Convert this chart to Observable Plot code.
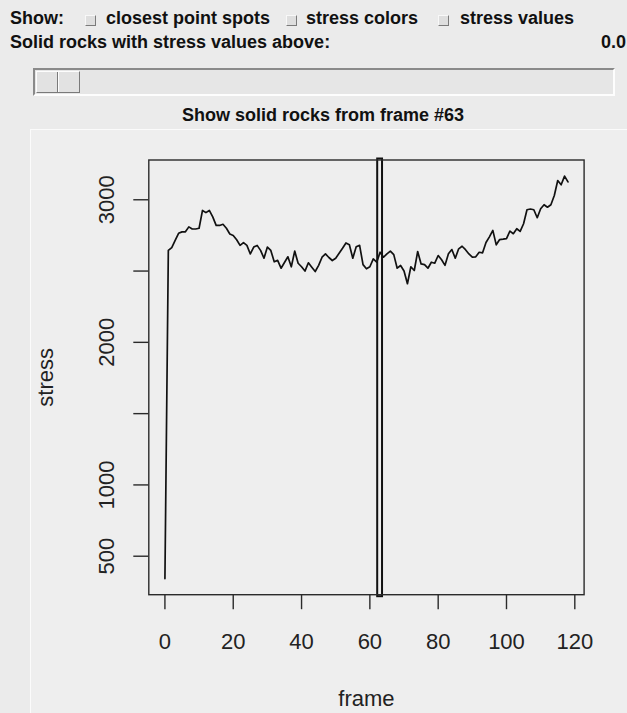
<!DOCTYPE html>
<html>
<head>
<meta charset="utf-8">
<script src="https://cdn.jsdelivr.net/npm/d3@7"></script>
<script src="https://cdn.jsdelivr.net/npm/@observablehq/plot@0.6"></script>
<style>
  html, body { margin: 0; padding: 0; }
  body { width: 627px; height: 713px; overflow: hidden; background: #ebebeb; position: relative;
         font-family: "Liberation Sans", Arial, sans-serif; }
  .t { position: absolute; font-weight: bold; font-size: 18px; color: #111; white-space: nowrap; }
  .cb { position: absolute; width: 9px; height: 9px; background: #dedede;
        border: 1px solid; border-color: #f8f8f8 #7a7a7a #7a7a7a #f8f8f8; }
  #trough { position: absolute; left: 33px; top: 68px; width: 578px; height: 24px; background: #e6e6e6;
            border: 2px solid; border-color: #8a8a8a #fdfdfd #fdfdfd #8a8a8a; }
  #handle { position: absolute; left: 1px; top: 1px; width: 42px; height: 20px; background: #e2e2e2;
            border: 1px solid; border-color: #fdfdfd #7a7a7a #7a7a7a #fdfdfd; }
  #handle .mid { position: absolute; left: 20px; top: 0; width: 1px; height: 20px; background: #7a7a7a; border-right: 1px solid #fdfdfd; }
  #panel { position: absolute; left: 30px; top: 129px; width: 597px; height: 584px; background: #eeeeee;
           border-top: 1px solid #fbfbfb; border-left: 1px solid #fbfbfb; }
  #chart { position: absolute; left: 30px; top: 130px; }
</style>
</head>
<body>
<div class="t" style="left:10px; top:8px;">Show:</div>
<div class="cb" style="left:85px; top:15px;"></div>
<div class="t" style="left:106px; top:8px;">closest point spots</div>
<div class="cb" style="left:286px; top:15px;"></div>
<div class="t" style="left:306px; top:8px;">stress colors</div>
<div class="cb" style="left:438px; top:15px;"></div>
<div class="t" style="left:460px; top:8px;">stress values</div>
<div class="t" style="left:10px; top:32px;">Solid rocks with stress values above:</div>
<div class="t" id="thr" style="right:1px; top:32px;"></div>
<div id="trough"><div id="handle"><div class="mid"></div></div></div>
<div id="panel"></div>
<div class="t" id="title" style="left:0; width:646px; text-align:center; top:105px;"></div>
<div id="chart"></div>
<script>
// ---- data ----
const frames = d3.range(0, 119);
const stress = [
  343, 2645, 2665, 2715, 2765, 2775, 2775, 2810, 2795, 2795,
  2800, 2925, 2910, 2925, 2880, 2820, 2820, 2828, 2800, 2760,
  2750, 2720, 2680, 2700, 2680, 2620, 2668, 2680, 2645, 2590,
  2668, 2645, 2565, 2575, 2520, 2560, 2600, 2530, 2640, 2555,
  2530, 2500, 2558, 2527, 2497, 2540, 2597, 2620, 2595, 2574,
  2590, 2625, 2660, 2697, 2685, 2590, 2670, 2680, 2545, 2516,
  2530, 2585, 2562, 2632, 2597, 2621, 2640, 2615, 2520, 2539,
  2500, 2411, 2530, 2504, 2637, 2550, 2545, 2520, 2562, 2555,
  2609, 2579, 2540, 2621, 2651, 2590, 2656, 2674, 2650, 2620,
  2597, 2600, 2632, 2628, 2700, 2740, 2785, 2684, 2721, 2724,
  2728, 2780, 2762, 2797, 2778, 2832, 2930, 2935, 2930, 2874,
  2937, 2965, 2948, 2965, 3030, 3135, 3105, 3166, 3125
];
const xTicks = [0, 20, 40, 60, 80, 100, 120];
const yTicks = [500, 1000, 1500, 2000, 2500, 3000];
const yTickLabels = ["500", "1000", "", "2000", "", "3000"];
const markedFrame = 63;
const threshold = "0.0";
const xLabel = "frame";
const yLabel = "stress";
const titleText = "Show solid rocks from frame #" + markedFrame;

document.getElementById("title").textContent = titleText;
document.getElementById("thr").textContent = threshold;

const data = frames.map((f, i) => ({frame: f, stress: stress[i]}));
const pad = (ext) => { const r = ext[1] - ext[0]; return [ext[0] - 0.04 * r, ext[1] + 0.04 * r]; };
const xDom = pad(d3.extent(frames));
const yDom = pad(d3.extent(stress));
const yTickData = yTicks.map((v, i) => ({v, label: yTickLabels[i]}));

const ink = "#222";
const chart = Plot.plot({
  width: 597,
  height: 583,
  marginLeft: 118.3,
  marginRight: 43.4,
  marginTop: 29.5,
  marginBottom: 118.8,
  style: {background: "transparent", fontFamily: "'Liberation Sans', Arial, sans-serif", fontSize: "22px", color: ink},
  x: {domain: xDom},
  y: {domain: yDom},
  marks: [
    Plot.rect([markedFrame], {x1: d => d - 1, x2: d => d + 1, fill: "#eeeeee", stroke: "#111", strokeWidth: 2,
      insetLeft: 1, insetRight: 1, insetTop: -1, insetBottom: -2}),
    Plot.line(data, {x: "frame", y: "stress", stroke: "#111", strokeWidth: 1.7}),
    Plot.frame({stroke: "#2a2a2a", strokeWidth: 1.4}),
    Plot.axisX({ticks: xTicks, tickSize: 15, tickPadding: 24, stroke: "#2a2a2a", strokeWidth: 1.4, fill: ink,
      fontSize: 22, label: null, tickFormat: d => String(d)}),
    Plot.axisY({ticks: yTicks, tickSize: 15, stroke: "#2a2a2a", strokeWidth: 1.4, tickFormat: () => "", label: null}),
    Plot.text(yTickData, {y: "v", text: "label", frameAnchor: "left", dx: -42, rotate: -90,
      fontSize: 22, fill: ink, textAnchor: "middle", lineAnchor: "middle"}),
    Plot.text([xLabel], {text: d => d, frameAnchor: "bottom", dy: 104, fontSize: 22, fill: ink, textAnchor: "middle", lineAnchor: "middle"}),
    Plot.text([yLabel], {text: d => d, frameAnchor: "left", dx: -103, rotate: -90, fontSize: 22, fill: ink, textAnchor: "middle", lineAnchor: "middle"})
  ]
});
document.getElementById("chart").appendChild(chart);
</script>
</body>
</html>
